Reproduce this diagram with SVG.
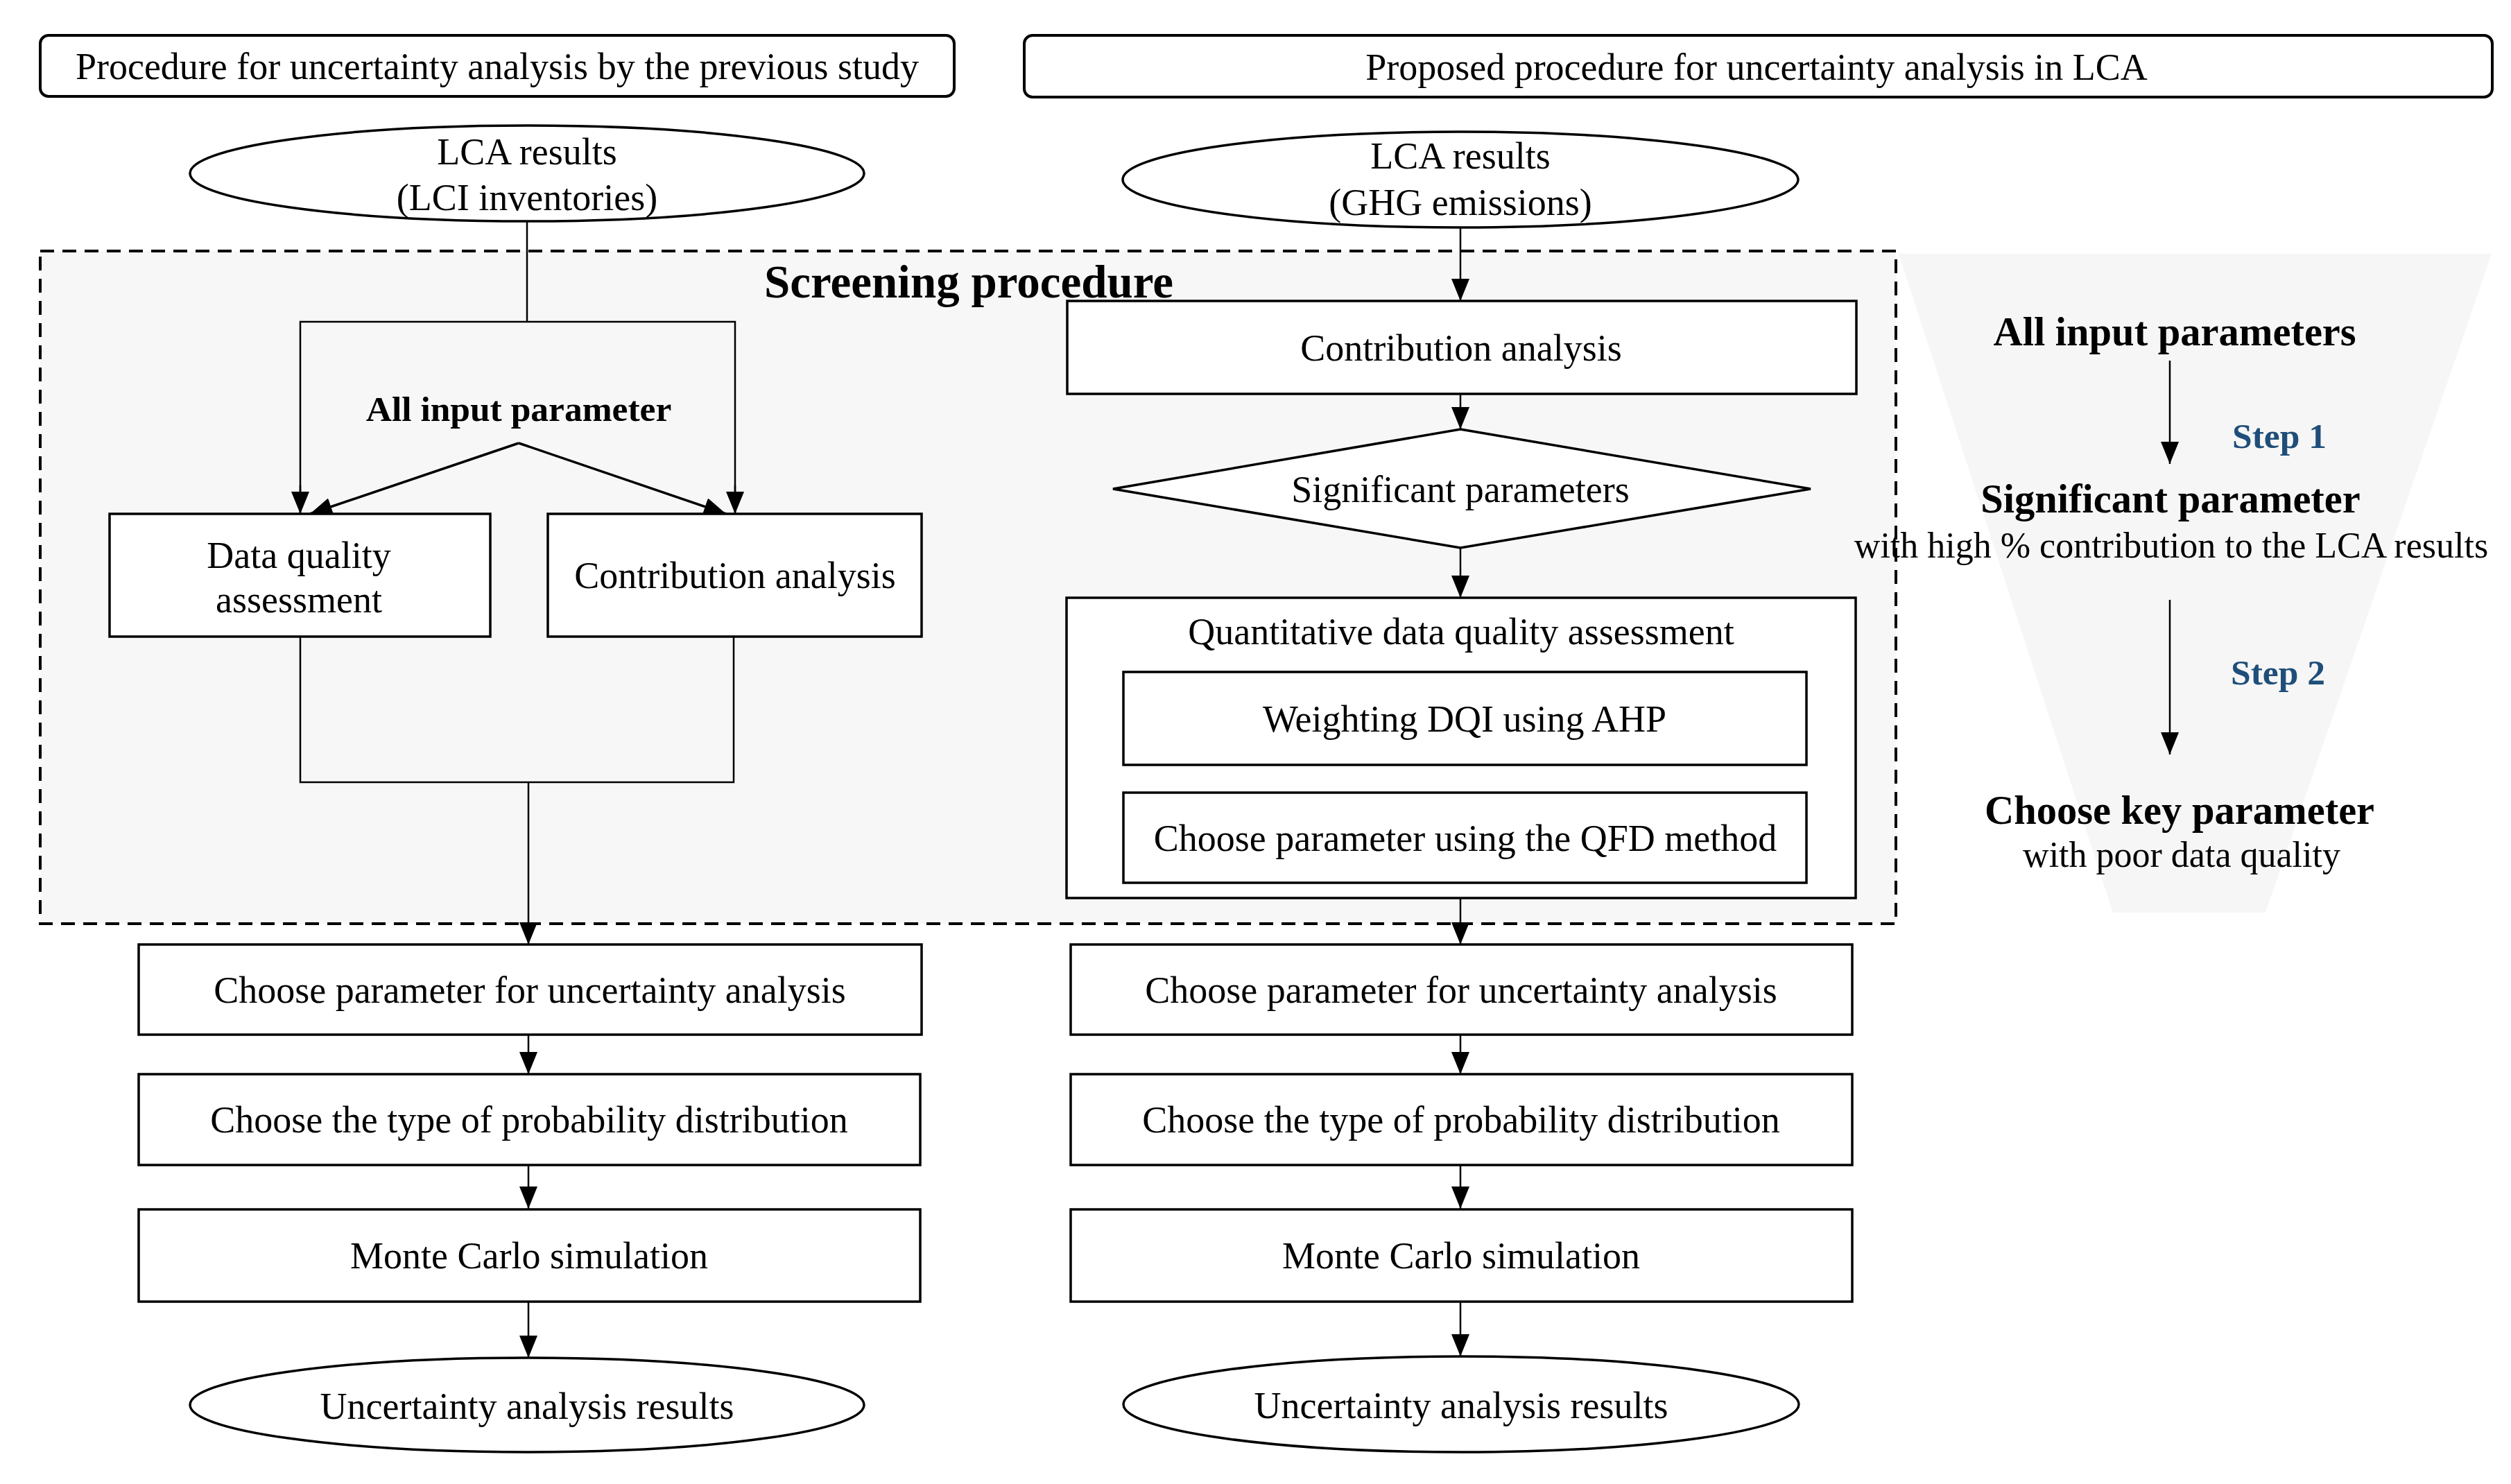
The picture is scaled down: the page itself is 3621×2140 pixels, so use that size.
<svg xmlns="http://www.w3.org/2000/svg" width="3621" height="2140" viewBox="0 0 3621 2140">
<style>
.t{font-family:"Liberation Serif","Times New Roman",serif;font-size:54px;text-anchor:middle;fill:#000}
.b{font-weight:bold}
.ab{font-size:51.5px;font-weight:bold}
.fb{font-size:58.5px;font-weight:bold}
.fs{font-size:52px}
.step{font-size:51.5px;font-weight:bold;fill:#1f4e79}
.sp{font-size:67px;font-weight:bold}
.box{fill:#fff;stroke:#000;stroke-width:3.5}
.title{fill:#fff;stroke:#000;stroke-width:4}
.con{fill:none;stroke:#000;stroke-width:2.5}
.arr{fill:none;stroke:#000;stroke-width:2.5;marker-end:url(#ah)}
.diag{stroke-width:3.5}
</style>
<defs>
<marker id="ah" markerUnits="userSpaceOnUse" markerWidth="32" markerHeight="26" refX="32" refY="13" orient="auto">
<path d="M0,0 L32,13 L0,26 z" fill="#000"/>
</marker>
</defs>
<rect width="3621" height="2140" fill="#fff"/>

<g id="funnel">
<polygon points="2738,366 3593,366 3267,1316 3047,1316" fill="#f6f6f6"/>
</g>
<g id="screening-area">
<rect x="58" y="362" width="2676" height="970" fill="#f7f7f7" stroke="#000" stroke-width="4" stroke-dasharray="20 12"/>
</g>

<g id="connectors">
<line class="con" x1="760" y1="319" x2="760" y2="464"/>
<path class="con" d="M433,741 L433,464 L1060,464 L1060,741"/>
<line class="arr" x1="433" y1="700" x2="433" y2="741"/>
<line class="arr" x1="1060" y1="700" x2="1060" y2="741"/>
<path class="arr diag" d="M748,639 L447,741"/>
<path class="arr diag" d="M748,639 L1047,741"/>
<path class="con" d="M433,918 L433,1128 L1058,1128 L1058,918" stroke-width="3"/>
<line class="arr" x1="762" y1="1128" x2="762" y2="1362"/>
<line class="arr" x1="762" y1="1492" x2="762" y2="1549"/>
<line class="arr" x1="762" y1="1680" x2="762" y2="1743"/>
<line class="arr" x1="762" y1="1877" x2="762" y2="1958"/>
<line class="arr" x1="2106" y1="328" x2="2106" y2="434"/>
<line class="arr" x1="2106" y1="568" x2="2106" y2="619"/>
<line class="arr" x1="2106" y1="790" x2="2106" y2="862"/>
<line class="arr" x1="2106" y1="1295" x2="2106" y2="1362"/>
<line class="arr" x1="2106" y1="1492" x2="2106" y2="1549"/>
<line class="arr" x1="2106" y1="1680" x2="2106" y2="1743"/>
<line class="arr" x1="2106" y1="1877" x2="2106" y2="1956"/>
<line class="arr" x1="3129" y1="520" x2="3129" y2="669"/>
<line class="arr" x1="3129" y1="865" x2="3129" y2="1088"/>
</g>

<g id="title-left">
<rect class="title" x="58" y="51" width="1318" height="88" rx="12"/>
<text class="t" x="717" y="114">Procedure for uncertainty analysis by the previous study</text>
</g>
<g id="title-right">
<rect class="title" x="1477" y="51" width="2117" height="89" rx="12"/>
<text class="t" x="2533" y="115">Proposed procedure for uncertainty analysis in LCA</text>
</g>

<g id="lca-left">
<ellipse class="box" cx="760" cy="250" rx="486" ry="69"/>
<text class="t" x="760" y="237">LCA results</text>
<text class="t" x="760" y="303">(LCI inventories)</text>
</g>
<g id="lca-right">
<ellipse class="box" cx="2106" cy="259" rx="487" ry="69"/>
<text class="t" x="2106" y="243">LCA results</text>
<text class="t" x="2106" y="310">(GHG emissions)</text>
</g>

<g id="all-input-left">
<text class="t ab" x="748" y="607">All input parameter</text>
</g>
<g id="dqa-left">
<rect class="box" x="158" y="741" width="549" height="177"/>
<text class="t" x="431" y="819">Data quality</text>
<text class="t" x="431" y="883">assessment</text>
</g>
<g id="contrib-left">
<rect class="box" x="790" y="741" width="539" height="177"/>
<text class="t" x="1060" y="848">Contribution analysis</text>
</g>

<g id="contrib-right">
<rect class="box" x="1539" y="434" width="1138" height="134"/>
<text class="t" x="2107" y="520">Contribution analysis</text>
</g>
<g id="significant">
<polygon class="box" points="2106,619 2611,705 2106,790 1605,705" stroke-width="4.5"/>
<text class="t" x="2106" y="724">Significant parameters</text>
</g>
<g id="qdqa">
<rect class="box" x="1538" y="862" width="1138" height="433"/>
<text class="t" x="2107" y="929">Quantitative data quality assessment</text>
<rect class="box" x="1620" y="969" width="985" height="134"/>
<text class="t" x="2112" y="1055">Weighting DQI using AHP</text>
<rect class="box" x="1620" y="1143" width="985" height="130"/>
<text class="t" x="2113" y="1227">Choose parameter using the QFD method</text>
</g>

<g id="screening-label">
<text class="t sp" x="1397" y="429">Screening procedure</text>
</g>

<g id="choose-left">
<rect class="box" x="200" y="1362" width="1129" height="130"/>
<text class="t" x="764" y="1446">Choose parameter for uncertainty analysis</text>
</g>
<g id="dist-left">
<rect class="box" x="200" y="1549" width="1127" height="131"/>
<text class="t" x="763" y="1633">Choose the type of probability distribution</text>
</g>
<g id="mc-left">
<rect class="box" x="200" y="1744" width="1127" height="133"/>
<text class="t" x="763" y="1829">Monte Carlo simulation</text>
</g>
<g id="result-left">
<ellipse class="box" cx="760" cy="2026" rx="486" ry="68"/>
<text class="t" x="760" y="2046">Uncertainty analysis results</text>
</g>

<g id="choose-right">
<rect class="box" x="1544" y="1362" width="1127" height="130"/>
<text class="t" x="2107" y="1446">Choose parameter for uncertainty analysis</text>
</g>
<g id="dist-right">
<rect class="box" x="1544" y="1549" width="1127" height="131"/>
<text class="t" x="2107" y="1633">Choose the type of probability distribution</text>
</g>
<g id="mc-right">
<rect class="box" x="1544" y="1744" width="1127" height="133"/>
<text class="t" x="2107" y="1829">Monte Carlo simulation</text>
</g>
<g id="result-right">
<ellipse class="box" cx="2107" cy="2025" rx="487" ry="69"/>
<text class="t" x="2107" y="2045">Uncertainty analysis results</text>
</g>

<g id="funnel-text">
<text class="t fb" x="3136" y="498">All input parameters</text>
<text class="t step" x="3287" y="646">Step 1</text>
<text class="t fb" x="3130" y="739">Significant parameter</text>
<text class="t fs" x="3131" y="804">with high % contribution to the LCA results</text>
<text class="t step" x="3285" y="987">Step 2</text>
<text class="t fb" x="3143" y="1188">Choose key parameter</text>
<text class="t fs" x="3146" y="1250">with poor data quality</text>
</g>
</svg>
